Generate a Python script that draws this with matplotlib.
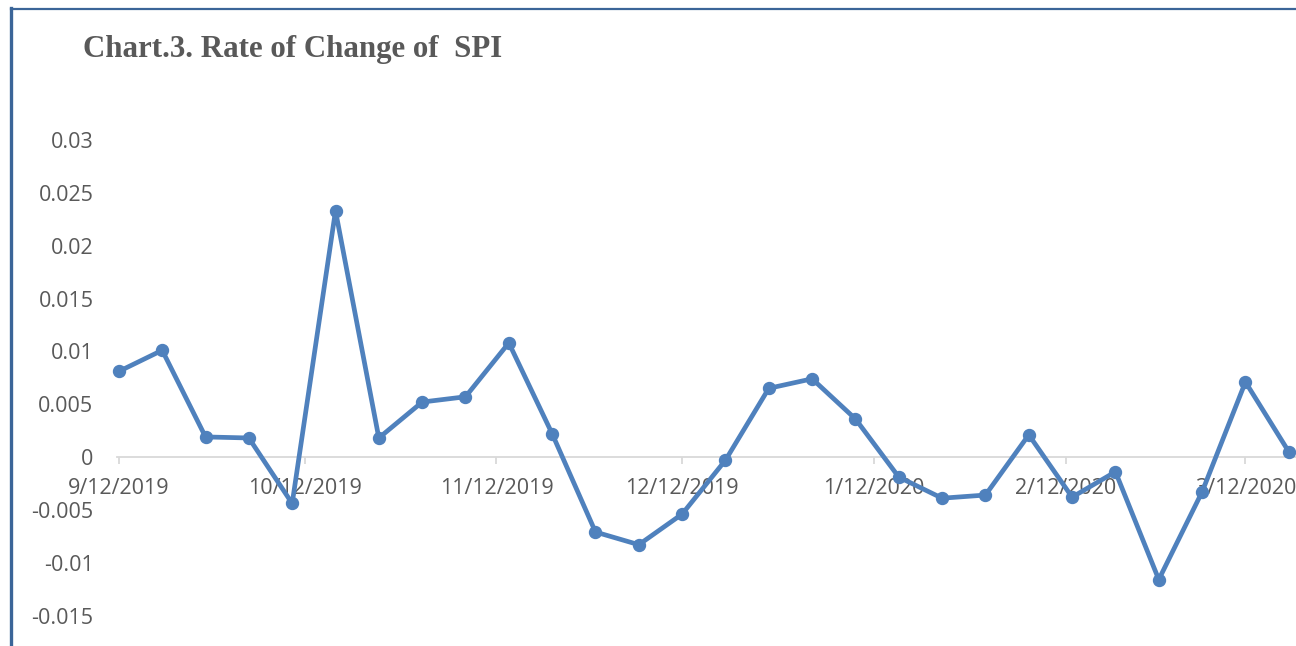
import matplotlib
matplotlib.use("Agg")
import matplotlib.pyplot as plt
import matplotlib.dates as mdates
from matplotlib.lines import Line2D
import datetime as dt

# ---- data ----
dates = ["2019-09-12", "2019-09-19", "2019-09-26", "2019-10-03", "2019-10-10",
         "2019-10-17", "2019-10-24", "2019-10-31", "2019-11-07", "2019-11-14",
         "2019-11-21", "2019-11-28", "2019-12-05", "2019-12-12", "2019-12-19",
         "2019-12-26", "2020-01-02", "2020-01-09", "2020-01-16", "2020-01-23",
         "2020-01-30", "2020-02-06", "2020-02-13", "2020-02-20", "2020-02-27",
         "2020-03-05", "2020-03-12", "2020-03-19"]
values = [0.0081, 0.0101, 0.0019, 0.0018, -0.0044,
          0.0233, 0.0018, 0.0052, 0.0057, 0.0108,
          0.0022, -0.0071, -0.0083, -0.0054, -0.0003,
          0.0065, 0.0074, 0.0036, -0.0019, -0.0039,
          -0.0036, 0.0021, -0.0038, -0.0014, -0.0116,
          -0.0033, 0.0071, 0.0005]
tick_dates = ["2019-09-12", "2019-10-12", "2019-11-12", "2019-12-12",
              "2020-01-12", "2020-02-12", "2020-03-12"]
tick_labels = ["9/12/2019", "10/12/2019", "11/12/2019", "12/12/2019",
               "1/12/2020", "2/12/2020", "3/12/2020"]
y_ticks = [-0.015, -0.01, -0.005, 0, 0.005, 0.01, 0.015, 0.02, 0.025, 0.03]
y_labels = ["-0.015", "-0.01", "-0.005", "0", "0.005", "0.01", "0.015",
            "0.02", "0.025", "0.03"]
title = "Chart.3. Rate of Change of  SPI"

W, H = 1296, 646
fig = plt.figure(figsize=(W / 100, H / 100), dpi=100)
fig.patch.set_facecolor("white")

ax_left, ax_right = 117, 1296
ax_top, ax_bot = 140, 615.5
ax = fig.add_axes([ax_left / W, 1 - ax_bot / H, (ax_right - ax_left) / W, (ax_bot - ax_top) / H])

x = [mdates.date2num(dt.datetime.strptime(d, "%Y-%m-%d")) for d in dates]
xt = [mdates.date2num(dt.datetime.strptime(d, "%Y-%m-%d")) for d in tick_dates]

ax.plot(x, values, color="#4F81BD", lw=3.4, marker="o", ms=8.6,
        solid_joinstyle="round", solid_capstyle="round", clip_on=False, zorder=3)

x0 = xt[0]
ax.set_xlim(x0 - 0.3, x0 - 0.3 + (ax_right - ax_left) / 6.19)
ax.set_ylim(-0.015, 0.03)

for s in ["top", "right", "left"]:
    ax.spines[s].set_visible(False)
ax.spines["bottom"].set_position(("data", 0))
ax.spines["bottom"].set_color("#D9D9D9")
ax.spines["bottom"].set_linewidth(1.3)
ax.spines["bottom"].set_zorder(1)

tick_font = dict(family=["Open Sans", "DejaVu Sans"], size=15.5, color="#595959")
ax.set_xticks(xt)
ax.set_xticklabels(tick_labels, **tick_font)
ax.tick_params(axis="x", direction="out", length=5, width=1.3, color="#D9D9D9", pad=10)
ax.set_yticks(y_ticks)
ax.set_yticklabels(y_labels, **tick_font)
ax.tick_params(axis="y", length=0, pad=17)
ax.patch.set_alpha(0)

fig.text(83 / W, 1 - 57 / H, title, family=["Liberation Serif"], weight="bold",
         size=22.2, color="#595959", ha="left", va="baseline")

# document border (left and top)
border_c = "#3B6598"
fig.add_artist(Line2D([11 / W, 11 / W], [0, 1 - 8 / H], color=border_c, lw=2.4,
                      transform=fig.transFigure))
fig.add_artist(Line2D([11 / W, 1], [1 - 9 / H, 1 - 9 / H], color=border_c, lw=1.6,
                      transform=fig.transFigure))

fig.savefig("out.png", dpi=100, facecolor="white")
